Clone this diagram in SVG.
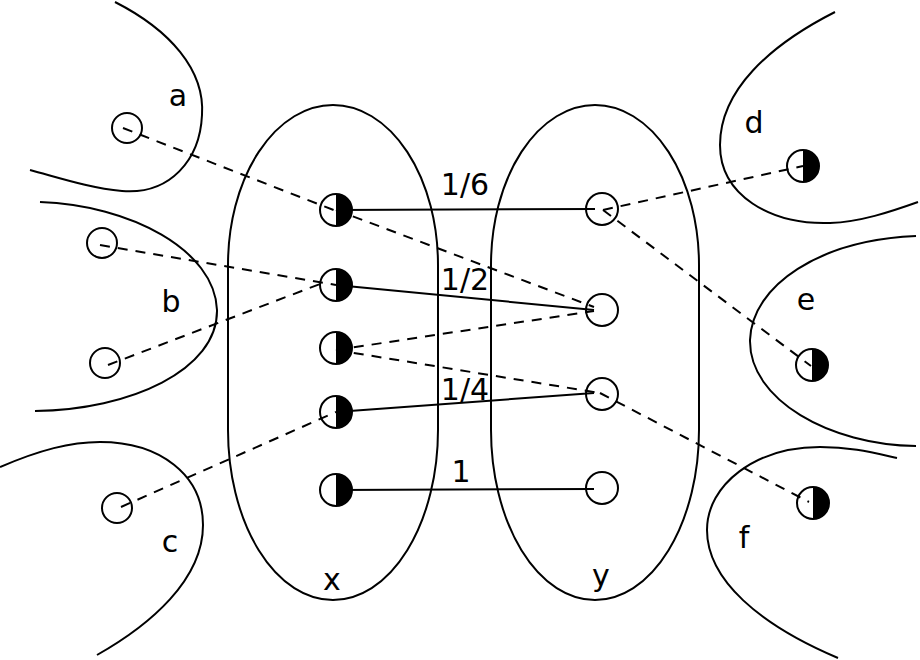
<svg xmlns="http://www.w3.org/2000/svg" width="920" height="660" viewBox="0 0 920 660">
<style>
.ln{fill:none;stroke:#000;stroke-width:2}
.lbl{font-family:"DejaVu Sans",sans-serif;font-size:30px;fill:#000;text-anchor:middle}
.pt{fill:#fff;stroke:#000;stroke-width:2}
.half{fill:#000}
.dash{fill:none;stroke:#000;stroke-width:2;stroke-dasharray:10,8}
.solid{fill:none;stroke:#000;stroke-width:2}
</style>
<rect width="920" height="660" fill="#fff"/>
<g id="region-a"><path class="ln" d="M115,2 C170,30 205,70 202,115 C200,160 170,195 122,191 C90,188 60,178 30,170"/><text class="lbl" x="178" y="106">a</text></g>
<g id="region-b"><path class="ln" d="M40,202 C130,205 215,250 217,310 C218,370 130,410 35,411"/><text class="lbl" x="171" y="312">b</text></g>
<g id="region-c"><path class="ln" d="M0,467 C40,450 70,442 100,442 C160,442 203,475 203,525 C203,580 150,625 97,655"/><text class="lbl" x="170" y="552">c</text></g>
<g id="region-d"><path class="ln" d="M835,12 C770,45 720,90 720,145 C720,195 770,225 830,223 C860,222 890,212 918,202"/><text class="lbl" x="754" y="133">d</text></g>
<g id="region-e"><path class="ln" d="M916,236 C820,240 752,285 750,340 C749,400 830,445 916,446"/><text class="lbl" x="806" y="310">e</text></g>
<g id="region-f"><path class="ln" d="M897,458 C870,452 850,447 820,447 C755,447 707,485 707,530 C707,580 760,625 838,658"/><text class="lbl" x="744" y="548">f</text></g>
<g id="set-x"><path class="ln" d="M228,265 A105,160 0 0 1 438,265 L438,430 A105,170 0 0 1 228,430 Z"/><text class="lbl" x="332" y="590">x</text></g>
<g id="set-y"><path class="ln" d="M491,265 A104,160 0 0 1 699,265 L699,430 A104,170 0 0 1 491,430 Z"/><text class="lbl" x="601" y="586">y</text></g>

<g id="a1"><circle class="pt" cx="127" cy="128" r="15"/></g>
<g id="b1"><circle class="pt" cx="102" cy="243" r="15"/></g>
<g id="b2"><circle class="pt" cx="105" cy="363" r="15"/></g>
<g id="c1"><circle class="pt" cx="117" cy="508" r="15"/></g>

<g id="x1"><circle class="pt" cx="336" cy="210" r="16"/><path class="half" d="M336,194 A16,16 0 0 1 336,226 Z"/></g>
<g id="x2"><circle class="pt" cx="336" cy="285" r="16"/><path class="half" d="M336,269 A16,16 0 0 1 336,301 Z"/></g>
<g id="x3"><circle class="pt" cx="336" cy="348" r="16"/><path class="half" d="M336,332 A16,16 0 0 1 336,364 Z"/></g>
<g id="x4"><circle class="pt" cx="336" cy="412" r="16"/><path class="half" d="M336,396 A16,16 0 0 1 336,428 Z"/></g>
<g id="x5"><circle class="pt" cx="336" cy="490" r="16"/><path class="half" d="M336,474 A16,16 0 0 1 336,506 Z"/></g>

<g id="y1"><circle class="pt" cx="602" cy="209" r="16"/></g>
<g id="y2"><circle class="pt" cx="602" cy="310" r="16"/></g>
<g id="y3"><circle class="pt" cx="602" cy="394" r="16"/></g>
<g id="y4"><circle class="pt" cx="602" cy="488" r="16"/></g>

<g id="d1"><circle class="pt" cx="803" cy="166" r="16"/><path class="half" d="M803,150 A16,16 0 0 1 803,182 Z"/></g>
<g id="e1"><circle class="pt" cx="812" cy="365" r="16"/><path class="half" d="M812,349 A16,16 0 0 1 812,381 Z"/></g>
<g id="f1"><circle class="pt" cx="813" cy="503" r="16"/><path class="half" d="M813,487 A16,16 0 0 1 813,519 Z"/></g>

<g id="connectors">
<line class="solid" x1="336" y1="210" x2="595" y2="209"/>
<line class="solid" x1="336" y1="285" x2="594" y2="310"/>
<line class="solid" x1="336" y1="412" x2="594" y2="393"/>
<line class="solid" x1="336" y1="490" x2="594" y2="489"/>
<line class="dash" x1="123" y1="128" x2="336" y2="211"/>
<line class="dash" x1="336" y1="210" x2="594" y2="307"/>
<line class="dash" x1="100" y1="245" x2="336" y2="285"/>
<line class="dash" x1="108" y1="365" x2="320" y2="284"/>
<line class="dash" x1="336" y1="350" x2="594" y2="311"/>
<line class="dash" x1="336" y1="350" x2="600" y2="393"/>
<line class="dash" x1="600" y1="393" x2="809" y2="502"/>
<line class="dash" x1="121" y1="507" x2="336" y2="412"/>
<line class="dash" x1="603" y1="210" x2="803" y2="166"/>
<line class="dash" x1="603" y1="210" x2="811" y2="366"/>
<text class="lbl" x="465" y="195">1/6</text>
<text class="lbl" x="465" y="290">1/2</text>
<text class="lbl" x="465" y="400">1/4</text>
<text class="lbl" x="461" y="482">1</text>
</g>
</svg>
